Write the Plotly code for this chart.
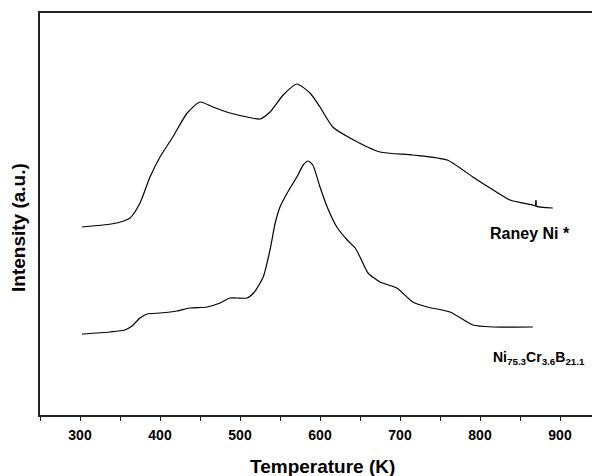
import plotly.graph_objects as go

# Raney Ni curve (temperature K, intensity a.u.)
raney_T = [302.5, 346, 362.5, 375, 387.5, 400, 416, 434, 450, 466, 487.5, 509, 525,
           537.5, 554, 571, 587.5, 600, 616, 637.5, 675, 716, 759, 791, 812.5, 837.5,
           866, 870, 870, 870, 891]
raney_I = [188, 192, 197, 212, 238, 258, 278, 302, 313, 308, 302, 298, 296,
           303, 320, 331, 322, 308, 288, 277, 263, 260, 255, 238, 227, 215,
           210, 209, 215, 209, 207]

# Ni75.3Cr3.6B21.1 curve
nicrb_T = [302.5, 337.5, 356, 365, 375, 384, 400, 421, 437.5, 459, 475, 487.5, 496, 509,
           518, 529, 537.5, 544, 550, 559, 571, 579, 585, 591, 600, 609, 621,
           634, 644, 650, 660, 675, 696, 716, 734, 762.5, 784, 791, 816, 866]
nicrb_I = [81, 83, 85, 89, 97, 101, 102, 104, 107, 108, 112, 117, 117, 117,
           123, 138, 165, 192, 208, 222, 238, 250, 254, 250, 228, 208, 188,
           175, 167, 158, 142, 133, 127, 113, 108, 103, 93, 90, 88, 88]

x_ticks = [300, 400, 500, 600, 700, 800, 900]
x_minor = [250, 350, 450, 550, 650, 750, 850, 950]

FONT = "Liberation Sans"

fig = go.Figure()
fig.add_trace(go.Scatter(x=raney_T, y=raney_I, mode="lines",
                         line=dict(color="black", width=1.2, shape="spline", smoothing=0.6),
                         showlegend=False, hoverinfo="skip"))
fig.add_trace(go.Scatter(x=nicrb_T, y=nicrb_I, mode="lines",
                         line=dict(color="black", width=1.2, shape="spline", smoothing=0.6),
                         showlegend=False, hoverinfo="skip"))

# page body has an 8px margin: figure is 592x468 drawn at (8, 8)
fig.update_layout(
    width=592, height=468,
    margin=dict(l=32, r=0, t=5, b=61),
    paper_bgcolor="white", plot_bgcolor="white",
    font=dict(family=FONT, color="black"),
    xaxis=dict(range=[250, 950], tickvals=x_ticks, ticks="outside", ticklen=4,
               tickwidth=1, tickcolor="#222", showline=True, linecolor="#222",
               linewidth=1.5, mirror=True, showgrid=False, zeroline=False,
               tickfont=dict(family=FONT, size=14, weight="bold", color="black"),
               minor=dict(tickvals=x_minor, ticks="outside", ticklen=4, tickcolor="#222"),
               ticklabelstandoff=2),
    yaxis=dict(range=[0, 402], showticklabels=False, ticks="", showline=True,
               linecolor="#222", linewidth=1.5, showgrid=False, zeroline=False),
    annotations=[
        dict(text="Temperature (K)", xref="paper", yref="paper", x=(322 - 40) / 560,
             y=-(466 - 415) / 402, xanchor="center", yanchor="middle", showarrow=False,
             font=dict(family=FONT, size=19, weight="bold")),
        dict(text="Intensity (a.u.)", xref="paper", yref="paper", x=-(40 - 19) / 560,
             y=(415 - 228) / 402, xanchor="center", yanchor="middle", textangle=-90,
             showarrow=False, font=dict(family=FONT, size=19, weight="bold")),
        dict(text="Raney Ni *", x=862.5, y=181.5, xanchor="center", yanchor="middle",
             showarrow=False, font=dict(family=FONT, size=16, weight="bold")),
        dict(text="Ni<sub>75.3</sub>Cr<sub>3.6</sub>B<sub>21.1</sub>", x=873.75, y=57,
             xanchor="center", yanchor="middle", showarrow=False,
             font=dict(family=FONT, size=14, weight="bold")),
    ],
)

fig.write_html("out.html")
